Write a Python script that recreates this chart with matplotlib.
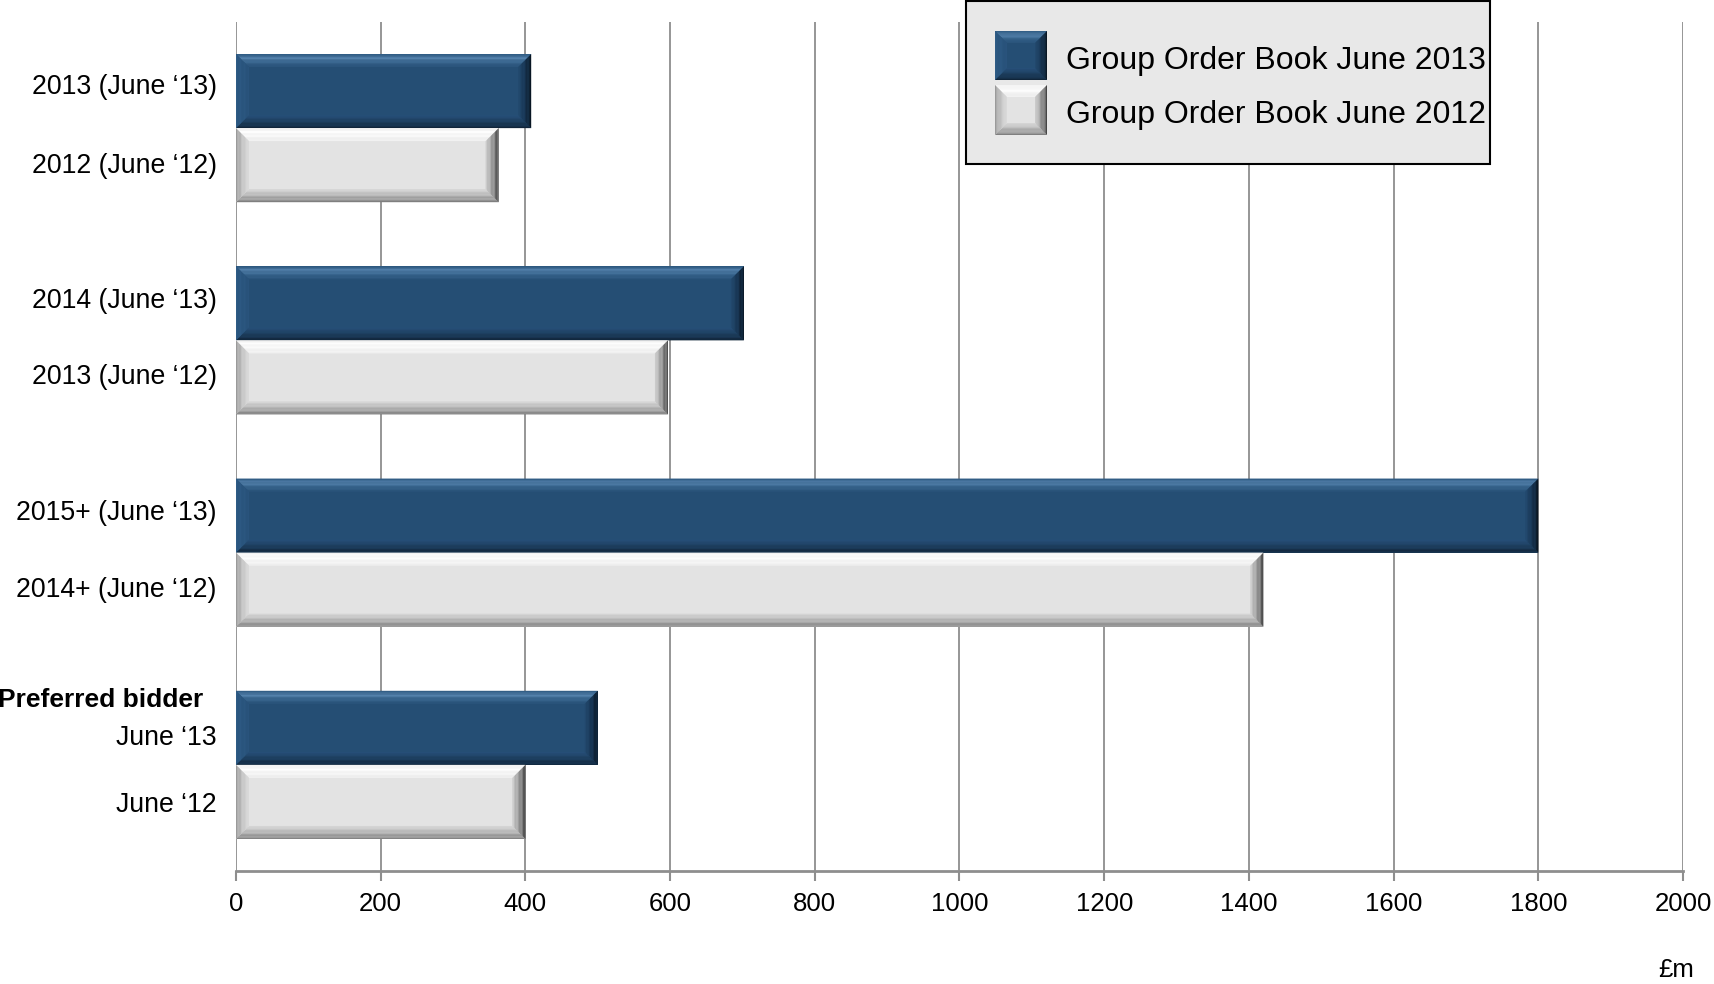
import numpy as np
import matplotlib
matplotlib.use("Agg")
import matplotlib.pyplot as plt
from matplotlib.patches import Polygon, Rectangle
from matplotlib.colors import to_rgb
from matplotlib.transforms import blended_transform_factory, IdentityTransform, ScaledTranslation

plt.rcParams['font.family'] = ['Liberation Sans', 'DejaVu Sans']

# ---------------- data ----------------
labels_2013 = ["2013 (June \u201813)", "2014 (June \u201813)", "2015+ (June \u201813)", "June \u201813"]
labels_2012 = ["2012 (June \u201812)", "2013 (June \u201812)", "2014+ (June \u201812)", "June \u201812"]
values_2013 = [408, 702, 1800, 500]
values_2012 = [363, 597, 1420, 400]
series_names = ["Group Order Book June 2013", "Group Order Book June 2012"]
x_ticks = [0, 200, 400, 600, 800, 1000, 1200, 1400, 1600, 1800, 2000]
unit_label = "\u00a3m"
group_title = "Preferred bidder"

# ---------------- style ----------------
W, H = 1715, 984
BLUE = '#254e74'
GREY = '#e3e3e3'
GRID = '#8e8e8e'

blue_grad = {
    'top':    [(0, '#2b567e'), (0.3, '#5785b0'), (0.65, '#3a6790'), (1, '#285279')],
    'bottom': [(0, '#0f2236'), (0.45, '#1b3a58'), (1, '#27507a')],
    'right':  [(0, '#08131e'), (0.5, '#163350'), (1, '#234a70')],
    'left':   [(0, '#2e5b86'), (1, '#29537b')],
}
grey_grad = {
    'top':    [(0, '#f2f2f2'), (0.3, '#ffffff'), (1, '#f0f0f0')],
    'bottom': [(0, '#7a7a7a'), (0.45, '#aaaaaa'), (1, '#d8d8d8')],
    'right':  [(0, '#3c3c3c'), (0.45, '#8c8c8c'), (1, '#d0d0d0')],
    'left':   [(0, '#959595'), (0.5, '#c2c2c2'), (1, '#dcdcdc')],
}


def interp(stops, t):
    ts = [s[0] for s in stops]
    cs = np.array([to_rgb(s[1]) for s in stops])
    return tuple(np.interp(t, ts, cs[:, k]) for k in range(3))


def bevel(container, x0, x1, yt, yb, bx, by, grad, transform=None, zorder=3, n=10):
    s = 1.0 if yb > yt else -1.0
    kw = dict(zorder=zorder, lw=0, antialiased=True)
    if transform is not None:
        kw['transform'] = transform
    for i in range(n):
        t0, t1 = i / n, (i + 1) / n
        tm = (t0 + t1) / 2
        c = interp(grad['top'], tm)
        container.add_artist(Polygon([(x0 + t0 * bx, yt + s * t0 * by), (x1 - t0 * bx, yt + s * t0 * by),
                                      (x1 - t1 * bx, yt + s * t1 * by), (x0 + t1 * bx, yt + s * t1 * by)],
                                     closed=True, fc=c, ec=c, **kw))
        c = interp(grad['bottom'], tm)
        container.add_artist(Polygon([(x0 + t0 * bx, yb - s * t0 * by), (x1 - t0 * bx, yb - s * t0 * by),
                                      (x1 - t1 * bx, yb - s * t1 * by), (x0 + t1 * bx, yb - s * t1 * by)],
                                     closed=True, fc=c, ec=c, **kw))
        c = interp(grad['right'], tm)
        container.add_artist(Polygon([(x1 - t0 * bx, yt + s * t0 * by), (x1 - t0 * bx, yb - s * t0 * by),
                                      (x1 - t1 * bx, yb - s * t1 * by), (x1 - t1 * bx, yt + s * t1 * by)],
                                     closed=True, fc=c, ec=c, **kw))
        c = interp(grad['left'], tm)
        container.add_artist(Polygon([(x0 + t0 * bx, yt + s * t0 * by), (x0 + t0 * bx, yb - s * t0 * by),
                                      (x0 + t1 * bx, yb - s * t1 * by), (x0 + t1 * bx, yt + s * t1 * by)],
                                     closed=True, fc=c, ec=c, **kw))


fig = plt.figure(figsize=(W / 100, H / 100), dpi=100)
ax_left, ax_right, ax_top, ax_bot = 236, 1683, 22, 871
ax = fig.add_axes([ax_left / W, 1 - ax_bot / H, (ax_right - ax_left) / W, (ax_bot - ax_top) / H])

n = len(values_2013)
cat = np.arange(n)
h = 0.349
y13 = cat - h / 2
y12 = cat + h / 2

ax.barh(y13, values_2013, height=h, color=BLUE, lw=0, zorder=2)
ax.barh(y12, values_2012, height=h, color=GREY, lw=0, zorder=2)

ax.set_xlim(0, 2000)
ax.set_ylim(n - 0.5, -0.5)

px_per_x = (ax_right - ax_left) / 2000.0
px_per_y = (ax_bot - ax_top) / n
bx = 13 / px_per_x
by = 13 / px_per_y

for yc, v in zip(y13, values_2013):
    bevel(ax, 0, v, yc - h / 2, yc + h / 2, bx, by, blue_grad, zorder=3)
for yc, v in zip(y12, values_2012):
    bevel(ax, 0, v, yc - h / 2, yc + h / 2, bx, by, grey_grad, zorder=3)

# axes styling
ax.set_xticks(x_ticks)
ax.set_xticklabels([str(t) for t in x_ticks])
ax.xaxis.grid(True, color=GRID, lw=1.3, zorder=0)
ax.set_axisbelow(True)
for sp in ['top', 'right', 'left']:
    ax.spines[sp].set_visible(False)
ax.spines['bottom'].set_color(GRID)
ax.spines['bottom'].set_linewidth(2)
ax.tick_params(axis='x', direction='out', length=7, width=1.5, color=GRID, labelsize=18.5, pad=8)

yt_pos = np.concatenate([y13, y12])
yt_lab = labels_2013 + labels_2012
ax.set_yticks(yt_pos)
ax.set_yticklabels(yt_lab)
ax.tick_params(axis='y', length=0, labelsize=19.2, pad=14)

# small vertical nudges of the category labels (in pixels, +up)
nudges = [7, 5, 6, -7, 2, 3, 3, 0]
for lab, dy in zip(ax.get_yticklabels(), nudges):
    lab.set_transform(lab.get_transform() + ScaledTranslation(0, dy / 100, fig.dpi_scale_trans))

# group heading for last group
trans = blended_transform_factory(fig.transFigure, ax.transData)
ax.text(203 / W, y13[-1] - 0.13, group_title, transform=trans, ha='right', va='center',
        fontsize=19, fontweight='bold')

# unit label
fig.text(1676 / W, 1 - 970 / H, unit_label, ha='center', va='center', fontsize=18.5)

# ---------------- legend (drawn in pixel coordinates) ----------------
ident = IdentityTransform()
lx0, lx1, ly_top, ly_bot = 966, 1490, 1, 164
fig.add_artist(Rectangle((lx0, H - ly_bot), lx1 - lx0, ly_bot - ly_top, transform=ident,
                         fc='#e8e8e8', ec='black', lw=1.5, zorder=10))
sq = [(31, 80), (85, 135)]
grads = [blue_grad, grey_grad]
fills = [BLUE, GREY]
for (t, b), g, f, name in zip(sq, grads, fills, series_names):
    fig.add_artist(Rectangle((995, H - b), 52, b - t, transform=ident, fc=f, lw=0, zorder=11))
    bevel(fig, 995, 1047, H - t, H - b, 12, 12, g, transform=ident, zorder=12)
    fig.text(1066 / W, 1 - ((t + b) / 2 + 5) / H, name, ha='left', va='center', fontsize=23, zorder=13)

fig.savefig('out.png', dpi=100)
